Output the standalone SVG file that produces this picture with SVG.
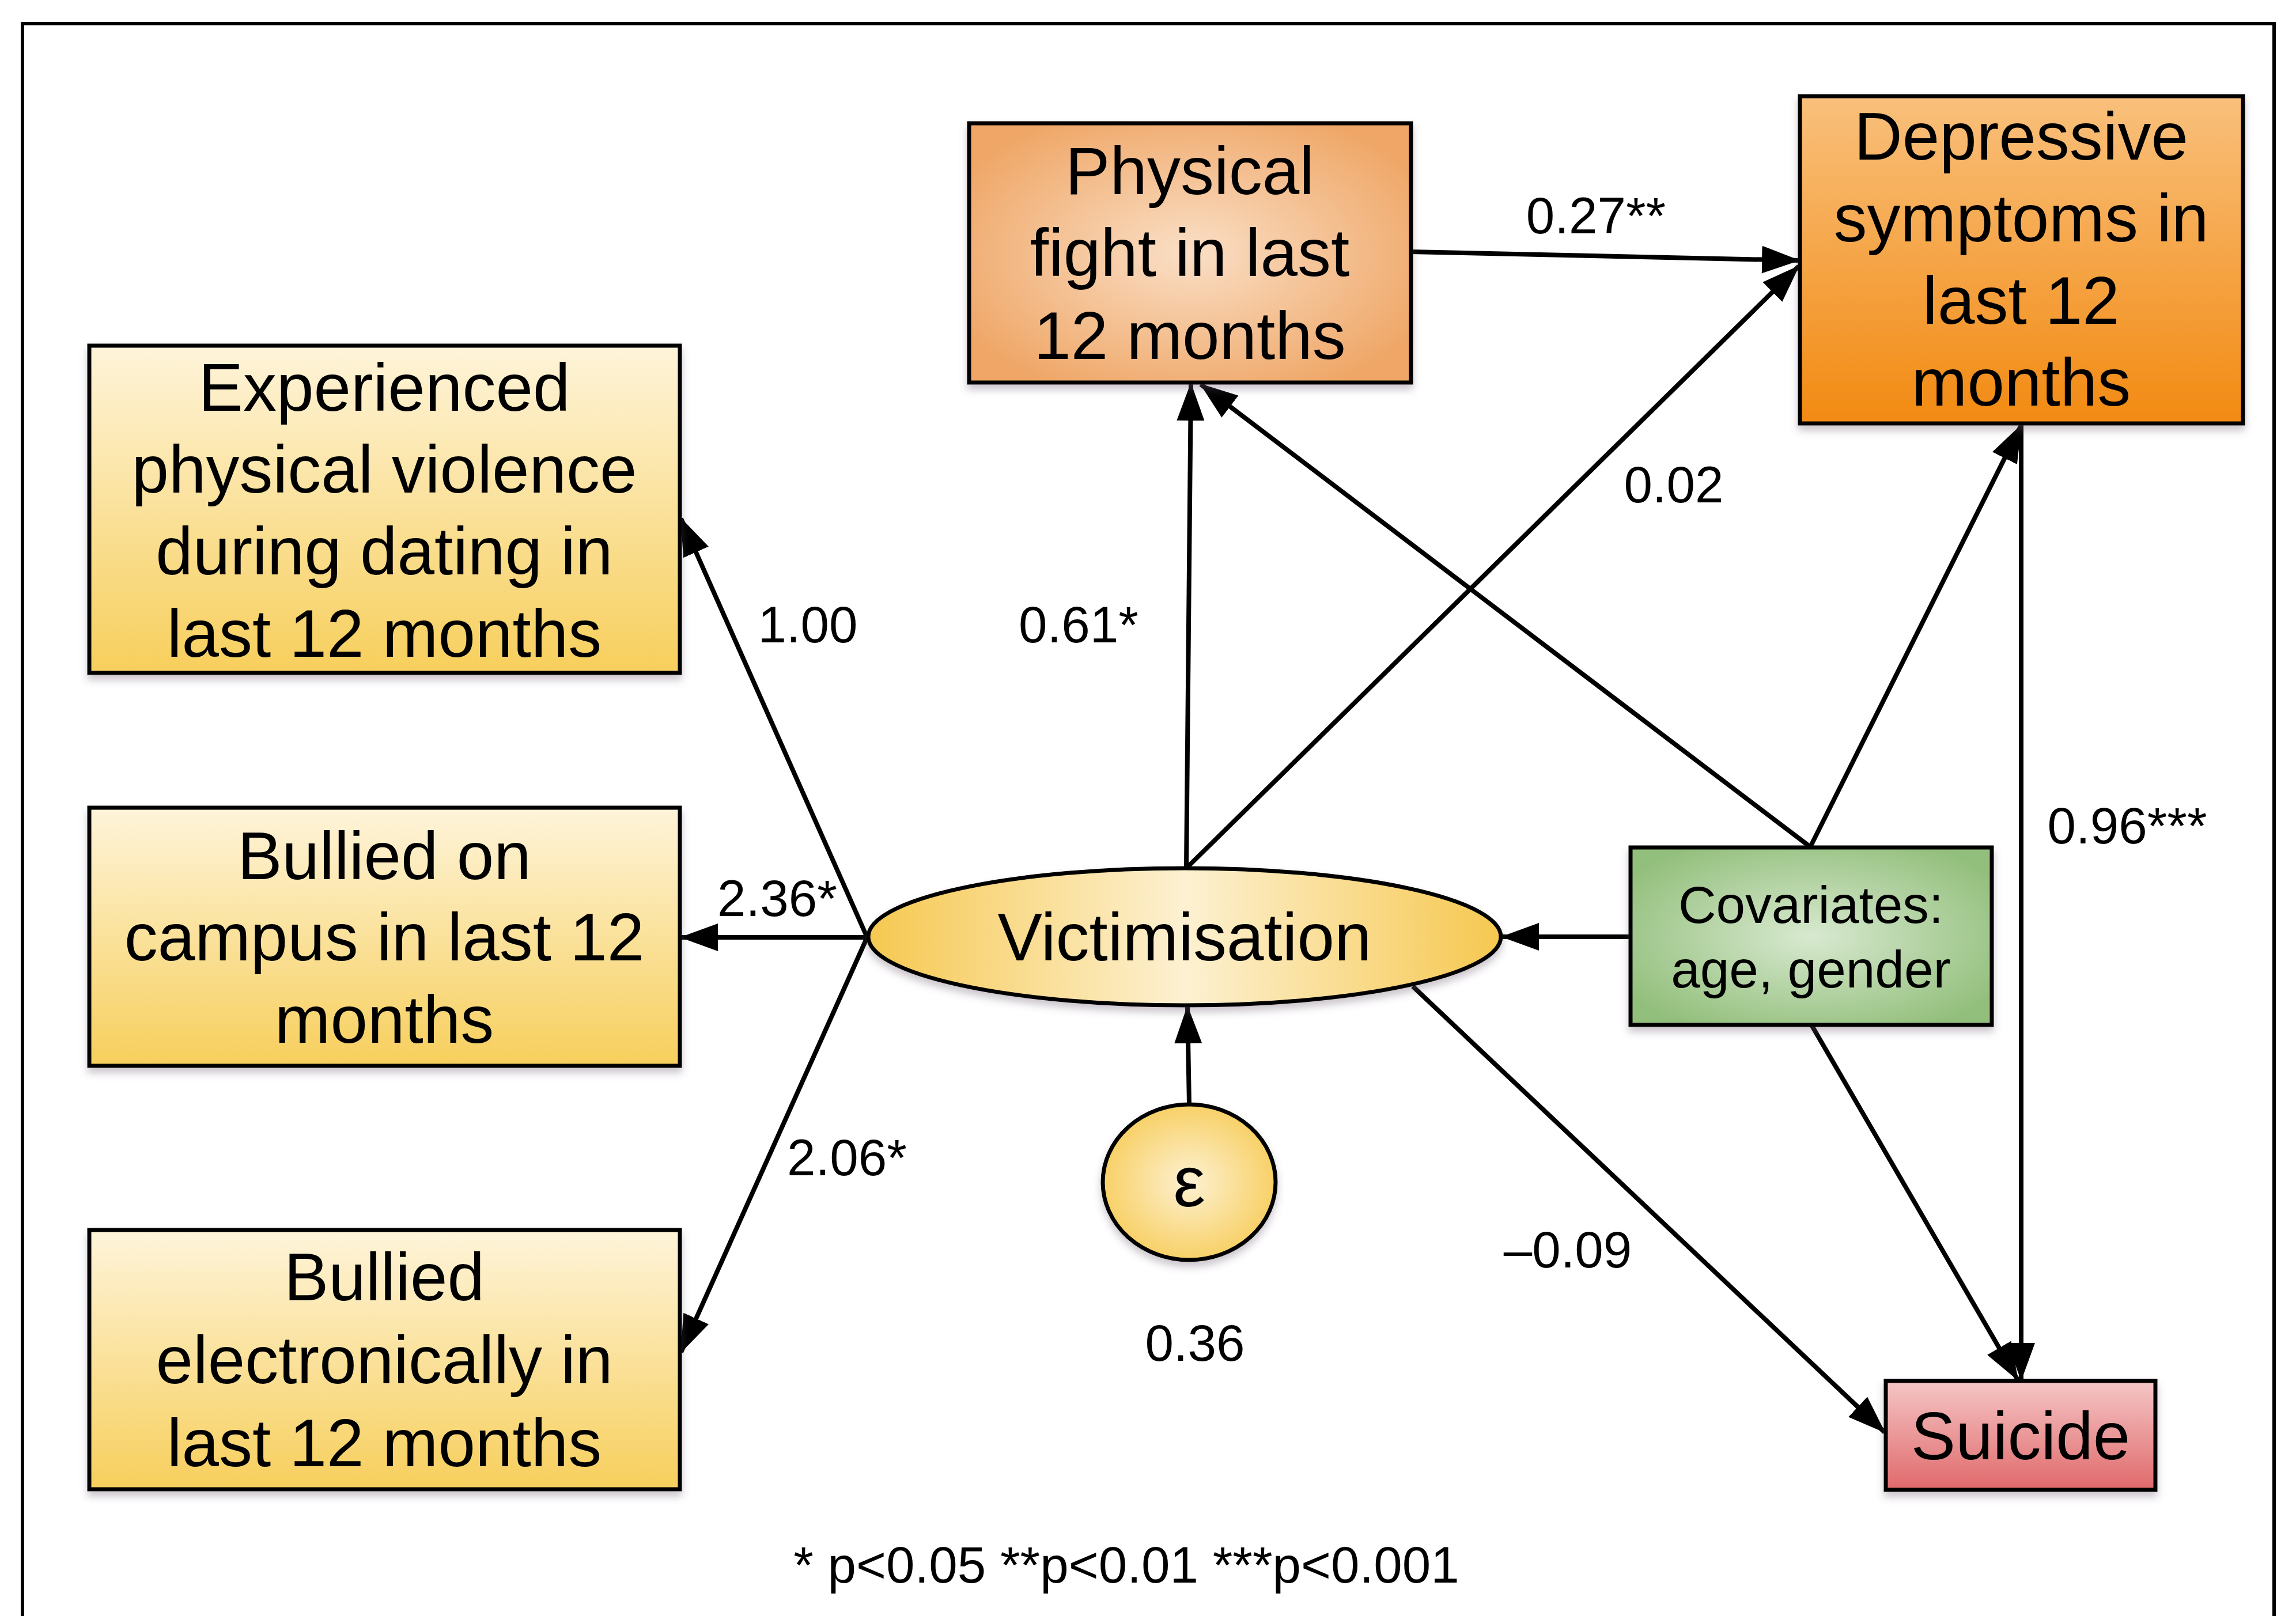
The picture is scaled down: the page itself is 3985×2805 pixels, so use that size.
<svg xmlns="http://www.w3.org/2000/svg" width="3985" height="2805" viewBox="0 0 3985 2805">
<defs>
<style>
.node{stroke:#000;stroke-width:7}
.nt{font-family:"Liberation Sans",Arial,sans-serif;font-size:116px;text-anchor:middle;fill:#000}
.ct{font-family:"Liberation Sans",Arial,sans-serif;font-size:91px;text-anchor:middle;fill:#000}
.lbl{font-family:"Liberation Sans",Arial,sans-serif;font-size:89px;text-anchor:middle;fill:#000}
.edge{stroke:#000;stroke-width:8;fill:none;marker-end:url(#ah)}
</style>
<marker id="ah" viewBox="0 0 66 48" refX="64" refY="24" markerWidth="66" markerHeight="48" markerUnits="userSpaceOnUse" orient="auto">
<path d="M0,0 L66,24 L0,48 Z" fill="#000"/>
</marker>
<filter id="sh" x="-5%" y="-5%" width="110%" height="125%">
<feDropShadow dx="0" dy="9" stdDeviation="7" flood-color="#6a5a70" flood-opacity="0.35"/>
</filter>
<linearGradient id="gYel" x1="0" y1="0" x2="0" y2="1">
<stop offset="0" stop-color="#FEF4DA"/><stop offset="1" stop-color="#F7CF5C"/>
</linearGradient>
<radialGradient id="gPhys" cx="0.5" cy="0.5" r="0.6">
<stop offset="0" stop-color="#FADFC6"/><stop offset="1" stop-color="#EFA666"/>
</radialGradient>
<linearGradient id="gDep" x1="0" y1="0" x2="0" y2="1">
<stop offset="0" stop-color="#F9C07C"/><stop offset="1" stop-color="#F28A12"/>
</linearGradient>
<linearGradient id="gVic" x1="0" y1="0" x2="1" y2="0">
<stop offset="0" stop-color="#F6C850"/><stop offset="0.5" stop-color="#FDF1D2"/><stop offset="1" stop-color="#F6C850"/>
</linearGradient>
<radialGradient id="gEps" cx="0.5" cy="0.5" r="0.55">
<stop offset="0" stop-color="#FDF1D2"/><stop offset="1" stop-color="#F7CD5C"/>
</radialGradient>
<radialGradient id="gCov" cx="0.5" cy="0.5" r="0.6">
<stop offset="0" stop-color="#D8E9D0"/><stop offset="1" stop-color="#93BF7C"/>
</radialGradient>
<linearGradient id="gSui" x1="0" y1="0" x2="0" y2="1">
<stop offset="0" stop-color="#F5C6C6"/><stop offset="1" stop-color="#E0696B"/>
</linearGradient>
</defs>
<rect x="0" y="0" width="3985" height="2805" fill="#fff"/>
<path d="M39,2815 V41 H3947 V2815" fill="none" stroke="#000" stroke-width="6"/>

<g id="connectors">
<line class="edge" x1="1505" y1="1627" x2="1182" y2="900"/>
<line class="edge" x1="1505" y1="1627" x2="1182" y2="1627"/>
<line class="edge" x1="1505" y1="1627" x2="1182" y2="2347"/>
<line class="edge" x1="2059" y1="1507" x2="2067" y2="666"/>
<line class="edge" x1="2059" y1="1507" x2="3122" y2="462"/>
<line class="edge" x1="2449" y1="437" x2="3122" y2="452"/>
<line class="edge" x1="3142" y1="1470" x2="2084" y2="667"/>
<line class="edge" x1="3142" y1="1470" x2="3508" y2="738"/>
<line class="edge" x1="2830" y1="1626" x2="2607" y2="1626"/>
<line class="edge" x1="3144" y1="1779" x2="3502" y2="2395"/>
<line class="edge" x1="3508" y1="736" x2="3508" y2="2395"/>
<line class="edge" x1="2452" y1="1712" x2="3271" y2="2486"/>
<line class="edge" x1="2064" y1="1917" x2="2061" y2="1747"/>
</g>

<g id="labels">
<text class="lbl" x="2770" y="405">0.27**</text>
<text class="lbl" x="2905" y="872">0.02</text>
<text class="lbl" x="1402" y="1115">1.00</text>
<text class="lbl" x="1872" y="1115">0.61*</text>
<text class="lbl" x="1349" y="1590">2.36*</text>
<text class="lbl" x="1470" y="2040">2.06*</text>
<text class="lbl" x="3692" y="1464">0.96***</text>
<text class="lbl" x="2721" y="2200">–0.09</text>
<text class="lbl" x="2074" y="2362">0.36</text>
<text class="lbl" x="1955" y="2747">* p&lt;0.05 **p&lt;0.01 ***p&lt;0.001</text>
</g>

<g id="node-experienced">
<rect class="node" x="155" y="600" width="1025" height="568" fill="url(#gYel)" filter="url(#sh)"/>
<text class="nt" x="667" y="713">Experienced</text>
<text class="nt" x="667" y="855">physical violence</text>
<text class="nt" x="667" y="997">during dating in</text>
<text class="nt" x="667" y="1140">last 12 months</text>
</g>
<g id="node-campus">
<rect class="node" x="155" y="1402" width="1025" height="448" fill="url(#gYel)" filter="url(#sh)"/>
<text class="nt" x="667" y="1526">Bullied on</text>
<text class="nt" x="667" y="1667">campus in last 12</text>
<text class="nt" x="667" y="1810">months</text>
</g>
<g id="node-electronic">
<rect class="node" x="155" y="2135" width="1025" height="450" fill="url(#gYel)" filter="url(#sh)"/>
<text class="nt" x="667" y="2257">Bullied</text>
<text class="nt" x="667" y="2401">electronically in</text>
<text class="nt" x="667" y="2545">last 12 months</text>
</g>
<g id="node-fight">
<rect class="node" x="1682" y="214" width="767" height="450" fill="url(#gPhys)" filter="url(#sh)"/>
<text class="nt" x="2065" y="337">Physical</text>
<text class="nt" x="2065" y="479">fight in last</text>
<text class="nt" x="2065" y="623">12 months</text>
</g>
<g id="node-depressive">
<rect class="node" x="3124" y="167" width="769" height="568" fill="url(#gDep)" filter="url(#sh)"/>
<text class="nt" x="3508" y="277">Depressive</text>
<text class="nt" x="3508" y="419">symptoms in</text>
<text class="nt" x="3508" y="562">last 12</text>
<text class="nt" x="3508" y="704">months</text>
</g>
<g id="node-victimisation">
<ellipse class="node" cx="2056" cy="1626" rx="549" ry="119" fill="url(#gVic)" filter="url(#sh)"/>
<text class="nt" x="2056" y="1667">Victimisation</text>
</g>
<g id="node-epsilon">
<ellipse class="node" cx="2064" cy="2052" rx="150" ry="135" fill="url(#gEps)" filter="url(#sh)"/>
<text class="nt" x="2064" y="2094" style="font-size:125px">ε</text>
</g>
<g id="node-covariates">
<rect class="node" x="2830" y="1471" width="627" height="308" fill="url(#gCov)" filter="url(#sh)"/>
<text class="ct" x="3143" y="1602">Covariates:</text>
<text class="ct" x="3143" y="1714">age, gender</text>
</g>
<g id="node-suicide">
<rect class="node" x="3273" y="2397" width="468" height="189" fill="url(#gSui)" filter="url(#sh)"/>
<text class="nt" x="3507" y="2533">Suicide</text>
</g>
</svg>
